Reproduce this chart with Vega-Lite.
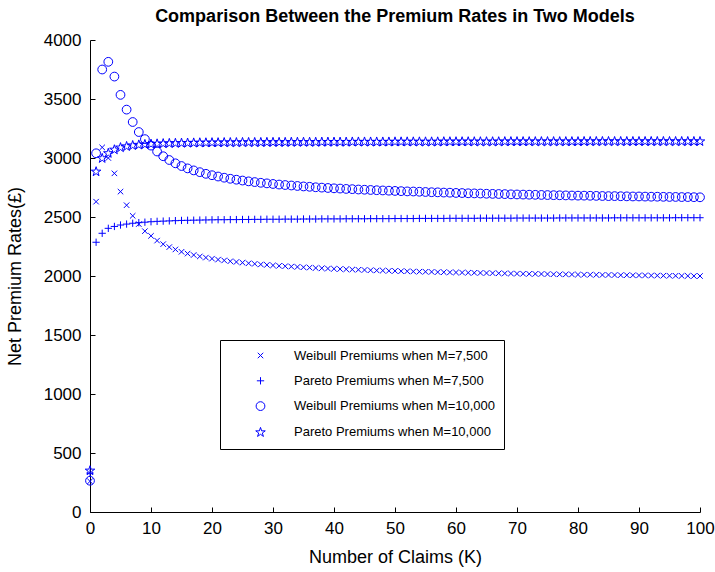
{
"$schema":"https://vega.github.io/schema/vega-lite/v6.json",
"width":610,"height":472,
"autosize":"none",
"padding":{"left":90,"top":40,"right":15,"bottom":60},
"background":"white",
"config":{"view":{"stroke":null},"font":"Liberation Sans"},
"title":{"text":"Comparison Between the Premium Rates in Two Models","font":"Liberation Sans","fontSize":18,"fontWeight":"bold","color":"black","anchor":"middle","offset":5},
"datasets":{"pts":[
{"K":0,"s":"a","v":260},{"K":1,"s":"a","v":2630},{"K":2,"s":"a","v":3090},{"K":3,"s":"a","v":3000},{"K":4,"s":"a","v":2870},{"K":5,"s":"a","v":2715},{"K":6,"s":"a","v":2600},{"K":7,"s":"a","v":2510},{"K":8,"s":"a","v":2440},{"K":9,"s":"a","v":2380},
{"K":10,"s":"a","v":2340},{"K":11,"s":"a","v":2300},{"K":12,"s":"a","v":2270},{"K":13,"s":"a","v":2245},{"K":14,"s":"a","v":2225},{"K":15,"s":"a","v":2205},{"K":16,"s":"a","v":2190},{"K":17,"s":"a","v":2178},{"K":18,"s":"a","v":2166},{"K":19,"s":"a","v":2156},
{"K":20,"s":"a","v":2147},{"K":21,"s":"a","v":2139},{"K":22,"s":"a","v":2132},{"K":23,"s":"a","v":2125},{"K":24,"s":"a","v":2119},{"K":25,"s":"a","v":2113},{"K":26,"s":"a","v":2108},{"K":27,"s":"a","v":2103},{"K":28,"s":"a","v":2098},{"K":29,"s":"a","v":2094},
{"K":30,"s":"a","v":2090},{"K":31,"s":"a","v":2086},{"K":32,"s":"a","v":2083},{"K":33,"s":"a","v":2080},{"K":34,"s":"a","v":2077},{"K":35,"s":"a","v":2074},{"K":36,"s":"a","v":2071},{"K":37,"s":"a","v":2068},{"K":38,"s":"a","v":2066},{"K":39,"s":"a","v":2063},
{"K":40,"s":"a","v":2061},{"K":41,"s":"a","v":2059},{"K":42,"s":"a","v":2057},{"K":43,"s":"a","v":2055},{"K":44,"s":"a","v":2053},{"K":45,"s":"a","v":2051},{"K":46,"s":"a","v":2049},{"K":47,"s":"a","v":2047},{"K":48,"s":"a","v":2046},{"K":49,"s":"a","v":2044},
{"K":50,"s":"a","v":2043},{"K":51,"s":"a","v":2041},{"K":52,"s":"a","v":2040},{"K":53,"s":"a","v":2038},{"K":54,"s":"a","v":2037},{"K":55,"s":"a","v":2036},{"K":56,"s":"a","v":2035},{"K":57,"s":"a","v":2033},{"K":58,"s":"a","v":2032},{"K":59,"s":"a","v":2031},
{"K":60,"s":"a","v":2030},{"K":61,"s":"a","v":2029},{"K":62,"s":"a","v":2028},{"K":63,"s":"a","v":2027},{"K":64,"s":"a","v":2026},{"K":65,"s":"a","v":2025},{"K":66,"s":"a","v":2024},{"K":67,"s":"a","v":2023},{"K":68,"s":"a","v":2022},{"K":69,"s":"a","v":2021},
{"K":70,"s":"a","v":2020},{"K":71,"s":"a","v":2019},{"K":72,"s":"a","v":2018},{"K":73,"s":"a","v":2018},{"K":74,"s":"a","v":2017},{"K":75,"s":"a","v":2016},{"K":76,"s":"a","v":2015},{"K":77,"s":"a","v":2014},{"K":78,"s":"a","v":2014},{"K":79,"s":"a","v":2013},
{"K":80,"s":"a","v":2012},{"K":81,"s":"a","v":2011},{"K":82,"s":"a","v":2011},{"K":83,"s":"a","v":2010},{"K":84,"s":"a","v":2009},{"K":85,"s":"a","v":2009},{"K":86,"s":"a","v":2008},{"K":87,"s":"a","v":2007},{"K":88,"s":"a","v":2007},{"K":89,"s":"a","v":2006},
{"K":90,"s":"a","v":2005},{"K":91,"s":"a","v":2005},{"K":92,"s":"a","v":2004},{"K":93,"s":"a","v":2004},{"K":94,"s":"a","v":2003},{"K":95,"s":"a","v":2002},{"K":96,"s":"a","v":2002},{"K":97,"s":"a","v":2001},{"K":98,"s":"a","v":2001},{"K":99,"s":"a","v":2000},{"K":100,"s":"a","v":2000},
{"K":0,"s":"b","v":330},{"K":1,"s":"b","v":2286},{"K":2,"s":"b","v":2362},{"K":3,"s":"b","v":2404},{"K":4,"s":"b","v":2420},{"K":5,"s":"b","v":2432},{"K":6,"s":"b","v":2440},{"K":7,"s":"b","v":2447},{"K":8,"s":"b","v":2452},{"K":9,"s":"b","v":2456},
{"K":10,"s":"b","v":2460},{"K":11,"s":"b","v":2463},{"K":12,"s":"b","v":2465},{"K":13,"s":"b","v":2467},{"K":14,"s":"b","v":2469},{"K":15,"s":"b","v":2471},{"K":16,"s":"b","v":2472},{"K":17,"s":"b","v":2473},{"K":18,"s":"b","v":2474},{"K":19,"s":"b","v":2475},
{"K":20,"s":"b","v":2476},{"K":21,"s":"b","v":2477},{"K":22,"s":"b","v":2477},{"K":23,"s":"b","v":2478},{"K":24,"s":"b","v":2478},{"K":25,"s":"b","v":2479},{"K":26,"s":"b","v":2479},{"K":27,"s":"b","v":2480},{"K":28,"s":"b","v":2480},{"K":29,"s":"b","v":2481},
{"K":30,"s":"b","v":2481},{"K":31,"s":"b","v":2481},{"K":32,"s":"b","v":2482},{"K":33,"s":"b","v":2482},{"K":34,"s":"b","v":2482},{"K":35,"s":"b","v":2483},{"K":36,"s":"b","v":2483},{"K":37,"s":"b","v":2483},{"K":38,"s":"b","v":2484},{"K":39,"s":"b","v":2484},
{"K":40,"s":"b","v":2484},{"K":41,"s":"b","v":2484},{"K":42,"s":"b","v":2485},{"K":43,"s":"b","v":2485},{"K":44,"s":"b","v":2485},{"K":45,"s":"b","v":2485},{"K":46,"s":"b","v":2486},{"K":47,"s":"b","v":2486},{"K":48,"s":"b","v":2486},{"K":49,"s":"b","v":2486},
{"K":50,"s":"b","v":2487},{"K":51,"s":"b","v":2487},{"K":52,"s":"b","v":2487},{"K":53,"s":"b","v":2487},{"K":54,"s":"b","v":2488},{"K":55,"s":"b","v":2488},{"K":56,"s":"b","v":2488},{"K":57,"s":"b","v":2488},{"K":58,"s":"b","v":2488},{"K":59,"s":"b","v":2489},
{"K":60,"s":"b","v":2489},{"K":61,"s":"b","v":2489},{"K":62,"s":"b","v":2489},{"K":63,"s":"b","v":2489},{"K":64,"s":"b","v":2490},{"K":65,"s":"b","v":2490},{"K":66,"s":"b","v":2490},{"K":67,"s":"b","v":2490},{"K":68,"s":"b","v":2490},{"K":69,"s":"b","v":2490},
{"K":70,"s":"b","v":2491},{"K":71,"s":"b","v":2491},{"K":72,"s":"b","v":2491},{"K":73,"s":"b","v":2491},{"K":74,"s":"b","v":2491},{"K":75,"s":"b","v":2491},{"K":76,"s":"b","v":2491},{"K":77,"s":"b","v":2492},{"K":78,"s":"b","v":2492},{"K":79,"s":"b","v":2492},
{"K":80,"s":"b","v":2492},{"K":81,"s":"b","v":2492},{"K":82,"s":"b","v":2492},{"K":83,"s":"b","v":2492},{"K":84,"s":"b","v":2492},{"K":85,"s":"b","v":2492},{"K":86,"s":"b","v":2493},{"K":87,"s":"b","v":2493},{"K":88,"s":"b","v":2493},{"K":89,"s":"b","v":2493},
{"K":90,"s":"b","v":2493},{"K":91,"s":"b","v":2493},{"K":92,"s":"b","v":2493},{"K":93,"s":"b","v":2493},{"K":94,"s":"b","v":2493},{"K":95,"s":"b","v":2493},{"K":96,"s":"b","v":2494},{"K":97,"s":"b","v":2494},{"K":98,"s":"b","v":2494},{"K":99,"s":"b","v":2494},{"K":100,"s":"b","v":2494},
{"K":0,"s":"c","v":265},{"K":1,"s":"c","v":3040},{"K":2,"s":"c","v":3750},{"K":3,"s":"c","v":3815},{"K":4,"s":"c","v":3690},{"K":5,"s":"c","v":3535},{"K":6,"s":"c","v":3410},{"K":7,"s":"c","v":3305},{"K":8,"s":"c","v":3220},{"K":9,"s":"c","v":3160},
{"K":10,"s":"c","v":3105},{"K":11,"s":"c","v":3055},{"K":12,"s":"c","v":3015},{"K":13,"s":"c","v":2983},{"K":14,"s":"c","v":2955},{"K":15,"s":"c","v":2932},{"K":16,"s":"c","v":2912},{"K":17,"s":"c","v":2895},{"K":18,"s":"c","v":2880},{"K":19,"s":"c","v":2866},
{"K":20,"s":"c","v":2854},{"K":21,"s":"c","v":2843},{"K":22,"s":"c","v":2833},{"K":23,"s":"c","v":2824},{"K":24,"s":"c","v":2816},{"K":25,"s":"c","v":2809},{"K":26,"s":"c","v":2802},{"K":27,"s":"c","v":2796},{"K":28,"s":"c","v":2790},{"K":29,"s":"c","v":2785},
{"K":30,"s":"c","v":2780},{"K":31,"s":"c","v":2775},{"K":32,"s":"c","v":2771},{"K":33,"s":"c","v":2767},{"K":34,"s":"c","v":2763},{"K":35,"s":"c","v":2759},{"K":36,"s":"c","v":2756},{"K":37,"s":"c","v":2752},{"K":38,"s":"c","v":2749},{"K":39,"s":"c","v":2746},
{"K":40,"s":"c","v":2743},{"K":41,"s":"c","v":2741},{"K":42,"s":"c","v":2738},{"K":43,"s":"c","v":2736},{"K":44,"s":"c","v":2733},{"K":45,"s":"c","v":2731},{"K":46,"s":"c","v":2729},{"K":47,"s":"c","v":2727},{"K":48,"s":"c","v":2725},{"K":49,"s":"c","v":2723},
{"K":50,"s":"c","v":2721},{"K":51,"s":"c","v":2719},{"K":52,"s":"c","v":2717},{"K":53,"s":"c","v":2716},{"K":54,"s":"c","v":2714},{"K":55,"s":"c","v":2712},{"K":56,"s":"c","v":2710},{"K":57,"s":"c","v":2709},{"K":58,"s":"c","v":2707},{"K":59,"s":"c","v":2706},
{"K":60,"s":"c","v":2704},{"K":61,"s":"c","v":2703},{"K":62,"s":"c","v":2701},{"K":63,"s":"c","v":2700},{"K":64,"s":"c","v":2699},{"K":65,"s":"c","v":2697},{"K":66,"s":"c","v":2696},{"K":67,"s":"c","v":2695},{"K":68,"s":"c","v":2694},{"K":69,"s":"c","v":2692},
{"K":70,"s":"c","v":2691},{"K":71,"s":"c","v":2690},{"K":72,"s":"c","v":2689},{"K":73,"s":"c","v":2688},{"K":74,"s":"c","v":2687},{"K":75,"s":"c","v":2686},{"K":76,"s":"c","v":2685},{"K":77,"s":"c","v":2684},{"K":78,"s":"c","v":2683},{"K":79,"s":"c","v":2682},
{"K":80,"s":"c","v":2681},{"K":81,"s":"c","v":2681},{"K":82,"s":"c","v":2680},{"K":83,"s":"c","v":2679},{"K":84,"s":"c","v":2678},{"K":85,"s":"c","v":2677},{"K":86,"s":"c","v":2677},{"K":87,"s":"c","v":2676},{"K":88,"s":"c","v":2675},{"K":89,"s":"c","v":2674},
{"K":90,"s":"c","v":2674},{"K":91,"s":"c","v":2673},{"K":92,"s":"c","v":2672},{"K":93,"s":"c","v":2672},{"K":94,"s":"c","v":2671},{"K":95,"s":"c","v":2670},{"K":96,"s":"c","v":2670},{"K":97,"s":"c","v":2669},{"K":98,"s":"c","v":2669},{"K":99,"s":"c","v":2668},{"K":100,"s":"c","v":2667},
{"K":0,"s":"d","v":350},{"K":1,"s":"d","v":2884},{"K":2,"s":"d","v":2997},{"K":3,"s":"d","v":3040},{"K":4,"s":"d","v":3070},{"K":5,"s":"d","v":3088},{"K":6,"s":"d","v":3098},{"K":7,"s":"d","v":3106},{"K":8,"s":"d","v":3111},{"K":9,"s":"d","v":3115},
{"K":10,"s":"d","v":3118},{"K":11,"s":"d","v":3120},{"K":12,"s":"d","v":3122},{"K":13,"s":"d","v":3124},{"K":14,"s":"d","v":3125},{"K":15,"s":"d","v":3126},{"K":16,"s":"d","v":3127},{"K":17,"s":"d","v":3128},{"K":18,"s":"d","v":3129},{"K":19,"s":"d","v":3129},
{"K":20,"s":"d","v":3130},{"K":21,"s":"d","v":3130},{"K":22,"s":"d","v":3131},{"K":23,"s":"d","v":3131},{"K":24,"s":"d","v":3131},{"K":25,"s":"d","v":3132},{"K":26,"s":"d","v":3132},{"K":27,"s":"d","v":3132},{"K":28,"s":"d","v":3132},{"K":29,"s":"d","v":3133},
{"K":30,"s":"d","v":3133},{"K":31,"s":"d","v":3133},{"K":32,"s":"d","v":3133},{"K":33,"s":"d","v":3134},{"K":34,"s":"d","v":3134},{"K":35,"s":"d","v":3134},{"K":36,"s":"d","v":3134},{"K":37,"s":"d","v":3134},{"K":38,"s":"d","v":3135},{"K":39,"s":"d","v":3135},
{"K":40,"s":"d","v":3135},{"K":41,"s":"d","v":3135},{"K":42,"s":"d","v":3135},{"K":43,"s":"d","v":3136},{"K":44,"s":"d","v":3136},{"K":45,"s":"d","v":3136},{"K":46,"s":"d","v":3136},{"K":47,"s":"d","v":3136},{"K":48,"s":"d","v":3136},{"K":49,"s":"d","v":3136},
{"K":50,"s":"d","v":3137},{"K":51,"s":"d","v":3137},{"K":52,"s":"d","v":3137},{"K":53,"s":"d","v":3137},{"K":54,"s":"d","v":3137},{"K":55,"s":"d","v":3137},{"K":56,"s":"d","v":3137},{"K":57,"s":"d","v":3137},{"K":58,"s":"d","v":3138},{"K":59,"s":"d","v":3138},
{"K":60,"s":"d","v":3138},{"K":61,"s":"d","v":3138},{"K":62,"s":"d","v":3138},{"K":63,"s":"d","v":3138},{"K":64,"s":"d","v":3138},{"K":65,"s":"d","v":3138},{"K":66,"s":"d","v":3138},{"K":67,"s":"d","v":3138},{"K":68,"s":"d","v":3139},{"K":69,"s":"d","v":3139},
{"K":70,"s":"d","v":3139},{"K":71,"s":"d","v":3139},{"K":72,"s":"d","v":3139},{"K":73,"s":"d","v":3139},{"K":74,"s":"d","v":3139},{"K":75,"s":"d","v":3139},{"K":76,"s":"d","v":3139},{"K":77,"s":"d","v":3139},{"K":78,"s":"d","v":3139},{"K":79,"s":"d","v":3139},
{"K":80,"s":"d","v":3139},{"K":81,"s":"d","v":3140},{"K":82,"s":"d","v":3140},{"K":83,"s":"d","v":3140},{"K":84,"s":"d","v":3140},{"K":85,"s":"d","v":3140},{"K":86,"s":"d","v":3140},{"K":87,"s":"d","v":3140},{"K":88,"s":"d","v":3140},{"K":89,"s":"d","v":3140},
{"K":90,"s":"d","v":3140},{"K":91,"s":"d","v":3140},{"K":92,"s":"d","v":3140},{"K":93,"s":"d","v":3140},{"K":94,"s":"d","v":3140},{"K":95,"s":"d","v":3140},{"K":96,"s":"d","v":3140},{"K":97,"s":"d","v":3140},{"K":98,"s":"d","v":3140},{"K":99,"s":"d","v":3140},{"K":100,"s":"d","v":3140}
]},
"data":{"name":"pts"},
"mark":{"type":"point","filled":false,"stroke":"#0000ff","strokeWidth":1,"opacity":1},
"encoding":{
"x":{"field":"K","type":"quantitative","scale":{"domain":[0,100],"nice":false},
 "axis":{"title":"Number of Claims (K)","values":[0,10,20,30,40,50,60,70,80,90,100],"grid":false,"domainColor":"black","tickColor":"black","tickSize":-5,"labelPadding":13,"labelColor":"black","labelFont":"Liberation Sans","labelFontSize":17,"titleFont":"Liberation Sans","titleFontSize":18,"titleFontWeight":"normal","titleColor":"black","titlePadding":12,"labelFlush":false}},
"y":{"field":"v","type":"quantitative","scale":{"domain":[0,4000],"nice":false},
 "axis":{"title":"Net Premium Rates(£)","format":"d","values":[0,500,1000,1500,2000,2500,3000,3500,4000],"grid":false,"domainColor":"black","tickColor":"black","tickSize":-5,"labelPadding":14,"labelColor":"black","labelFont":"Liberation Sans","labelFontSize":17,"titleFont":"Liberation Sans","titleFontSize":18,"titleFontWeight":"normal","titleColor":"black","titlePadding":19,"labelFlush":false}},
"shape":{"field":"s","type":"nominal","scale":{"domain":["a","b","c","d"],"range":["M-1,-1L1,1M-1,1L1,-1","M-1,0L1,0M0,-1L0,1","circle","M0,-1L0.225,-0.309L0.951,-0.309L0.363,0.118L0.588,0.809L0,0.382L-0.588,0.809L-0.363,0.118L-0.951,-0.309L-0.225,-0.309Z"]},
 "legend":{"title":null,"orient":"none","legendX":130,"legendY":300,"strokeColor":"black","fillColor":"white","padding":9,"labelFont":"Liberation Sans","labelFontSize":13,"labelColor":"black","labelExpr":"{'a':'Weibull Premiums when M=7,500','b':'Pareto Premiums when M=7,500','c':'Weibull Premiums when M=10,000','d':'Pareto Premiums when M=10,000'}[datum.label]","labelLimit":400,"symbolOffset":25,"labelOffset":27,"rowPadding":11.3,"symbolStrokeColor":"#0000ff","symbolStrokeWidth":1,"symbolFillColor":"transparent","symbolOpacity":1}},
"size":{"field":"s","type":"nominal","scale":{"domain":["a","b","c","d"],"range":[30,100,145,95]},
 "legend":{"title":null,"orient":"none","legendX":130,"legendY":300,"strokeColor":"black","fillColor":"white","padding":9,"labelFont":"Liberation Sans","labelFontSize":13,"labelColor":"black","labelExpr":"{'a':'Weibull Premiums when M=7,500','b':'Pareto Premiums when M=7,500','c':'Weibull Premiums when M=10,000','d':'Pareto Premiums when M=10,000'}[datum.label]","labelLimit":400,"symbolOffset":25,"labelOffset":27,"rowPadding":11.3,"symbolStrokeColor":"#0000ff","symbolStrokeWidth":1,"symbolFillColor":"transparent","symbolOpacity":1}}
}
}
